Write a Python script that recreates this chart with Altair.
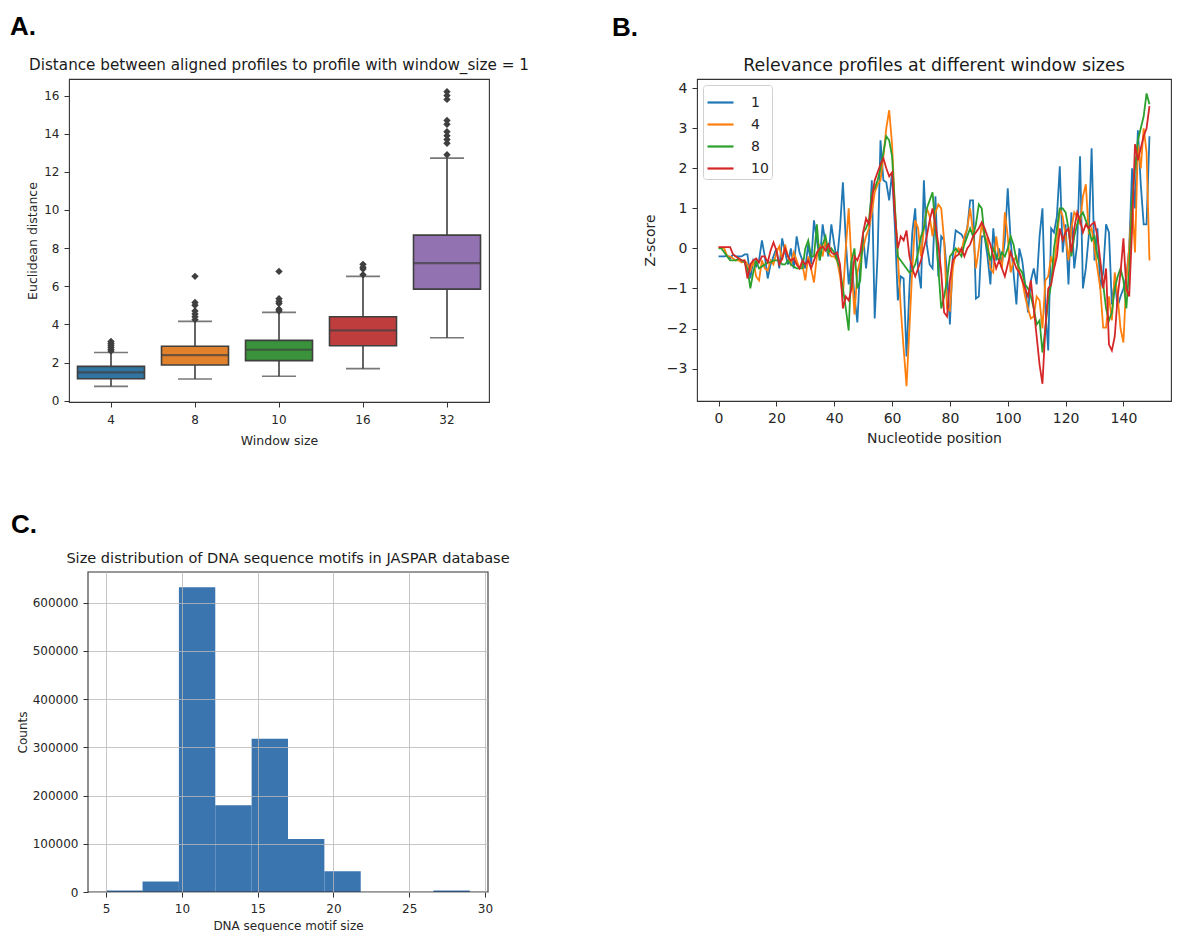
import altair as alt
import pandas as pd

# ---------------- Panel A: boxplot summary values ----------------
window_sizes = ["4", "8", "10", "16", "32"]
whisker_low = [0.75, 1.14, 1.28, 1.68, 3.30]
q1 = [1.15, 1.87, 2.10, 2.88, 5.85]
median = [1.48, 2.39, 2.67, 3.69, 7.21]
q3 = [1.80, 2.85, 3.16, 4.40, 8.68]
whisker_high = [2.53, 4.16, 4.63, 6.52, 12.72]
outliers_4 = [2.6, 2.7, 2.8, 2.9, 3.0, 3.1]
outliers_8 = [4.25, 4.4, 4.55, 4.7, 5.0, 5.15, 6.52]
outliers_10 = [4.7, 4.8, 5.1, 5.2, 5.35, 6.78]
outliers_16 = [6.6, 6.9, 7.0, 7.15]
outliers_32 = [12.9, 13.5, 13.7, 13.9, 14.1, 14.5, 14.7, 15.8, 16.0, 16.2]
box_colors = ["#3274a1", "#e1812c", "#3a923a", "#c03d3e", "#9372b2"]

# ---------------- Panel B: relevance profiles ----------------
profile_windows = ["1", "4", "8", "10"]
line_colors = ["#1f77b4", "#ff7f0e", "#2ca02c", "#d62728"]
z_w1 = [
    -0.2, -0.2, -0.2, -0.18, -0.25, -0.15, -0.2, -0.2, -0.2, -0.15,
    -0.15, -0.75, -0.3, -0.45, -0.3, 0.2, -0.2, -0.75, -0.4, -0.2,
    0.0, -0.5, 0.25, -0.1, -0.4, 0.0, -0.5, 0.3, -0.1, -0.3,
    -0.5, 0.1, -0.4, 0.7, 0.2, -0.3, 0.6, 0.1, -0.2, 0.6,
    0.1, -0.3, 0.5, 1.65, 0.2, -0.9, -0.3, -1.2, -1.85, -0.4,
    0.3, -0.5, 0.2, 1.7, -1.75, -0.15, 2.7, 1.7, 1.65, 1.2,
    1.9, 0.5, -1.3, -0.7, -0.75, -2.7, -1.0, 0.4, 1.0, -0.5,
    -1.0, 1.7, 0.1, -0.4, -0.5, 1.3, -0.7, 0.3, 0.2, -0.6,
    -1.9, -0.2, 0.45, 0.4, 0.35, 0.2, 0.5, 1.2, 1.2, -1.25,
    -1.2, 0.3, 0.3, -0.2, -0.9, 0.5, -0.3, 0.0, -0.4, 0.2,
    1.5, 0.2, -0.6, -1.4, 0.0, -0.3, -0.9, -1.6, -0.8, -0.5,
    -0.9, 0.3, 1.0, -1.5, -2.55, 0.5, 0.4, 0.8, 2.05, -0.1,
    0.6, -0.9, 0.9, -0.5, 0.1, 2.3, -1.0, -0.5, 0.3, 2.5,
    -0.3, 0.5, -1.0, -0.6, 0.6, 0.4, -1.4, -0.8, -1.45, -1.2,
    -1.0, -0.7, 0.0, 2.0, 1.0, 2.95, 1.6, 0.6, 0.6, 2.8,
]
z_w4 = [
    0.02, 0.02, 0.0, -0.2, -0.2, -0.25, -0.3, -0.3, -0.35, -0.3,
    -0.4, -0.55, -0.3, -0.7, -0.8, -0.3, -0.5, -0.55, -0.3, -0.4,
    -0.1, 0.05, -0.3, 0.1, -0.2, -0.4, -0.1, -0.3, -0.5, -0.4,
    -0.8, -0.2, -0.5, -0.85, -0.2, 0.1, -0.2, 0.2, -0.1, -0.2,
    -0.2, -0.3, -0.7, -1.2, 0.0, 1.0, -0.4, -1.65, -0.6, -0.3,
    0.0, 0.3, 0.5, 0.9, 1.4, 1.6, 1.7, 2.3, 3.0, 3.45,
    2.6, 1.0, -0.2, -1.5, -2.5, -3.44, -2.0, -0.5, 0.7, 0.5,
    -0.2, 0.5, 1.0, 0.8, 0.3, 0.9, 1.1, 1.0, 0.2, -1.5,
    -1.55, -0.5, -0.1, 0.0, -0.1, 0.3, 0.5, 1.0, 0.4, -0.5,
    0.0, 0.6, 0.3, 0.2, -0.5, -0.6, 0.3, -0.2, -0.5, 0.9,
    0.3, -0.6, -0.3, -0.2, -0.6, -0.8, -1.2, -1.5, -1.75, -1.7,
    -1.2, -1.3, -2.0, -0.8, -0.7, -0.2, -0.5, 0.2, 1.0, 0.8,
    0.3, -0.3, 0.5, 0.9, 0.8, 0.6, 1.3, 1.6, 0.4, 0.5,
    0.0, -0.5, -1.0, -1.98, -1.98, -1.2, -1.8, -0.6, -1.2, -2.0,
    -2.35, -0.8, 0.0, 1.2, -0.1, 2.6, 2.0, 3.0, 2.4, -0.3,
]
z_w8 = [
    0.0, 0.0, -0.1, -0.2, -0.3, -0.3, -0.3, -0.25, -0.3, -0.35,
    -0.5, -1.0, -0.6, -0.3, -0.5, -0.45, -0.4, -0.35, -0.35, -0.3,
    -0.3, -0.3, -0.4, -0.4, -0.3, -0.4, -0.45, -0.5, -0.5, -0.5,
    0.0, 0.2, -0.2, -0.2, 0.6, -0.3, 0.1, 0.3, -0.1, 0.0,
    -0.1, -0.3, -0.5, -1.0, -1.5, -2.05, -0.3, 0.0, -1.0, -0.8,
    0.4, 0.5, 0.7, 1.4, 1.5, 1.7, 2.0, 2.4, 2.8, 2.7,
    2.3, 1.0, -0.2, -0.3, -0.4, -0.5, -0.6, -0.55, -0.4, -0.1,
    0.3, 0.5, 1.0, 1.2, 1.4, 0.5, -0.5, -1.5, -1.2, -0.8,
    -0.2, -0.1, 0.0, -0.1, -0.2, 0.1, 0.3, 0.5, 0.3, 0.6,
    1.1, 1.0, 0.3, 0.0, -0.3, 0.0, -0.2, -0.3, -0.1, -0.2,
    0.0, 0.3, 0.1, -0.3, -0.5, -0.6, -0.9, -1.0, -1.2, -1.5,
    -1.9, -1.8, -2.6, -2.0, -1.3, -0.9, 0.0, 0.5, 1.0, 1.0,
    0.9, 0.5, -0.2, 0.3, 0.6, 0.8, 0.9, 0.7, 0.5, 0.2,
    0.3, -0.2, -0.4, -0.9, -1.5, -1.8, -1.6, -1.0, -0.7, -0.5,
    -0.8, -1.5, -0.5, 1.2, 2.0, 2.7, 3.0, 3.3, 3.87, 3.6,
]
z_w10 = [
    0.03, 0.03, 0.03, 0.03, 0.03, -0.15, -0.2, -0.25, -0.3, -0.3,
    -0.75, -0.4, -0.3, -0.25, -0.35, -0.2, -0.2, -0.35, -0.05, 0.15,
    -0.05, -0.4, -0.25, 0.0, -0.2, -0.3, -0.25, -0.4, -0.5, -0.3,
    -0.4, -0.3, -0.5, -0.3, -0.1, 0.0, 0.05, -0.05, 0.1, -0.1,
    -0.15, -0.1, -0.4, -1.5, -1.2, -1.3, -1.0, -0.2, -0.3, -0.1,
    0.4, 0.75, 0.6, 1.2, 1.7, 1.9, 2.1, 2.25, 2.0, 1.8,
    1.9, 0.8, 0.0, 0.3, 0.2, 0.45, -0.2, -0.5, -0.7, -0.5,
    -0.3, 0.0, 0.3, 0.7, 1.0, 0.6, 0.1, -0.6, -1.6, -1.7,
    -0.8, -0.3, -0.2, -0.15, 0.0, -0.2, 0.0, 0.1, 0.3, 0.4,
    0.5, 0.65, 0.5, 0.3, 0.1, -0.2, -0.5, -0.3, -0.5, -0.7,
    -0.4, -0.1, -0.3, -0.5, -0.6, -0.8, -1.0, -1.2, -0.8, -1.5,
    -2.2, -2.9, -3.38, -2.0, -1.0, -0.9, -0.5, -0.2, 0.5, 0.2,
    0.4, 0.5, -0.1, 0.5, 0.9, 0.7, 0.4, 0.6, 0.5, 0.6,
    0.65, 0.3, -0.3, -1.0, -0.5, -2.4, -2.55, -2.2, -1.2, -0.6,
    0.25, -1.0, -1.2, 0.5, 2.6, 2.2, 2.5, 2.8, 3.0, 3.55,
]

# ---------------- Panel C: histogram ----------------
bin_start = [5.0, 7.4, 9.8, 12.2, 14.6, 17.0, 19.4, 21.8, 24.2, 26.6]
bin_end = [7.4, 9.8, 12.2, 14.6, 17.0, 19.4, 21.8, 24.2, 26.6, 29.0]
bin_counts = [3000, 22000, 632000, 180000, 318000, 110000, 43000, 0, 0, 3000]

FONT = "DejaVu Sans"
EDGE = "#3f3f3f"
FRAME = "#333333"
TXT = "#262626"


def label_text(txt, x, y, size=26, bold=True, align="left", font="Liberation Sans", color="black"):
    return alt.Chart(pd.DataFrame({"t": [txt]})).mark_text(
        font=font, fontWeight="bold" if bold else "normal", fontSize=size,
        align=align, baseline="alphabetic", color=color).encode(
        x=alt.value(x), y=alt.value(y), text="t:N")


# ---------------- build panel A ----------------
A_W, A_H = 420, 323
box_df = pd.DataFrame({
    "w": window_sizes, "lo": whisker_low, "q1": q1, "med": median,
    "q3": q3, "hi": whisker_high,
})
out_rows = []
for w, vals in zip(window_sizes, [outliers_4, outliers_8, outliers_10, outliers_16, outliers_32]):
    for v in vals:
        out_rows.append({"w": w, "v": v})
out_df = pd.DataFrame(out_rows)

xA = alt.X("w:N", sort=window_sizes, title="Window size",
           scale=alt.Scale(paddingInner=0, paddingOuter=0),
           axis=alt.Axis(labelAngle=0, labelFontSize=12, labelPadding=7,
                         titleFontSize=12.5, titlePadding=9))
yA_scale = alt.Scale(domain=[-0.07, 16.87], nice=False, zero=False)
yA_axis = alt.Axis(values=[0, 2, 4, 6, 8, 10, 12, 14, 16], title="Euclidean distance",
                   labelFontSize=12, labelPadding=5, titleFontSize=12.5, titlePadding=4)

baseA = alt.Chart(box_df)
whisk = baseA.mark_rule(color=EDGE, strokeWidth=1.6).encode(
    x=xA, y=alt.Y("lo:Q", scale=yA_scale, axis=yA_axis), y2="hi:Q")
cap_lo = baseA.mark_tick(color=EDGE, size=34, thickness=1.6).encode(x=xA, y="lo:Q")
cap_hi = baseA.mark_tick(color=EDGE, size=34, thickness=1.6).encode(x=xA, y="hi:Q")
boxes = baseA.mark_bar(width=67, stroke=EDGE, strokeWidth=1.6).encode(
    x=xA, y="q1:Q", y2="q3:Q",
    color=alt.Color("w:N", sort=window_sizes,
                    scale=alt.Scale(domain=window_sizes, range=box_colors), legend=None))
med = baseA.mark_tick(color=EDGE, size=67, thickness=2.2).encode(x=xA, y="med:Q")
outs = alt.Chart(out_df).mark_point(shape="diamond", filled=True, color=EDGE, size=55, opacity=1).encode(
    x=xA, y="v:Q")

panelA = alt.layer(
    whisk, cap_lo, cap_hi, boxes, med, outs,
    label_text("A.", -59, -44),
    label_text("Distance between aligned profiles to profile with window_size = 1",
               A_W / 2, -9, size=15.2, bold=False, align="center", font=FONT, color="#1a1a1a"),
).properties(width=A_W, height=A_H)

# ---------------- build panel B ----------------
B_W, B_H = 474, 322
rows = []
for w, series in zip(profile_windows, [z_w1, z_w4, z_w8, z_w10]):
    for i, v in enumerate(series):
        rows.append({"pos": i, "z": v, "win": w})
prof_df = pd.DataFrame(rows)

lines = alt.Chart(prof_df).mark_line(strokeWidth=1.8).encode(
    x=alt.X("pos:Q", title="Nucleotide position",
            scale=alt.Scale(domain=[-7.45, 156.45], nice=False, zero=False),
            axis=alt.Axis(values=[0, 20, 40, 60, 80, 100, 120, 140],
                          labelFontSize=14, labelPadding=5, titleFontSize=14, titlePadding=6)),
    y=alt.Y("z:Q", title="Z-score",
            scale=alt.Scale(domain=[-3.81, 4.23], nice=False, zero=False),
            axis=alt.Axis(values=[-3, -2, -1, 0, 1, 2, 3, 4],
                          labelFontSize=14, labelPadding=5, titleFontSize=14, titlePadding=9)),
    color=alt.Color("win:N", sort=profile_windows,
                    scale=alt.Scale(domain=profile_windows, range=line_colors),
                    legend=alt.Legend(title=None, orient="top-left", offset=6,
                                      symbolType="stroke", symbolSize=676,
                                      symbolStrokeWidth=2.2, labelFontSize=14,
                                      labelFont=FONT, labelColor=TXT, labelOffset=16,
                                      rowPadding=-4, padding=3,
                                      strokeColor="#d0d0d0", fillColor="white",
                                      cornerRadius=3)),
    order="pos:Q",
)

panelB = alt.layer(
    lines,
    label_text("B.", -85, -43),
    label_text("Relevance profiles at different window sizes",
               B_W / 2, -8, size=17.4, bold=False, align="center", font=FONT, color="#1a1a1a"),
).properties(width=B_W, height=B_H)

# ---------------- build panel C ----------------
# panel C's frame starts 19px right of the column origin shared with panel A
C_SHIFT, C_W, C_H = 19, 400, 320
hist_df = pd.DataFrame({"start": bin_start, "end": bin_end, "count": bin_counts})
bars = alt.Chart(hist_df).mark_rect(color="#3a75b0").encode(
    x=alt.X("start:Q", title="DNA sequence motif size",
            scale=alt.Scale(domain=[3.8, 30.2], nice=False, zero=False,
                            range=[C_SHIFT, C_SHIFT + C_W]),
            axis=alt.Axis(values=[5, 10, 15, 20, 25, 30], grid=True, zindex=1,
                          labelFontSize=12, labelPadding=6, titleFontSize=12, titlePadding=6)),
    x2="end:Q",
    y=alt.Y("count:Q", title="Counts",
            scale=alt.Scale(domain=[0, 663600], nice=False),
            axis=alt.Axis(values=[0, 100000, 200000, 300000, 400000, 500000, 600000],
                          format="d", grid=True, zindex=1, offset=-C_SHIFT,
                          labelFontSize=12, labelPadding=5, titleFontSize=12, titlePadding=3)),
    y2=alt.datum(0),
)
frameC = alt.Chart(pd.DataFrame({"f": [0]})).mark_rect(
    filled=False, stroke=FRAME, strokeWidth=1.1).encode(
    x=alt.value(C_SHIFT), x2=alt.value(C_SHIFT + C_W), y=alt.value(0), y2=alt.value(C_H))

panelC = alt.layer(
    bars, frameC,
    label_text("C.", -58, -39),
    label_text("Size distribution of DNA sequence motifs in JASPAR database",
               C_SHIFT + C_W / 2, -9, size=14.55, bold=False, align="center", font=FONT,
               color="#1a1a1a"),
).properties(width=C_SHIFT + C_W, height=C_H,
             view=alt.ViewBackground(stroke="transparent"))

chart = alt.concat(
    panelA, panelB, panelC, columns=2, spacing={"row": 63, "column": 81}
).resolve_scale(color="independent").resolve_legend(color="independent").properties(
    align="none",
    padding={"left": 9, "top": 13, "right": 0, "bottom": 0},
).configure_view(
    stroke=FRAME, strokeWidth=1.1,
).configure_axis(
    domain=False, tickColor=FRAME, tickSize=5, tickWidth=1,
    labelFont=FONT, labelColor=TXT,
    titleFont=FONT, titleFontWeight="normal", titleColor=TXT,
    grid=False, gridColor="#b8b8b8", gridWidth=1, gridOpacity=0.8,
)

chart.save("out.html", embed_options={"renderer": "svg", "actions": False})
